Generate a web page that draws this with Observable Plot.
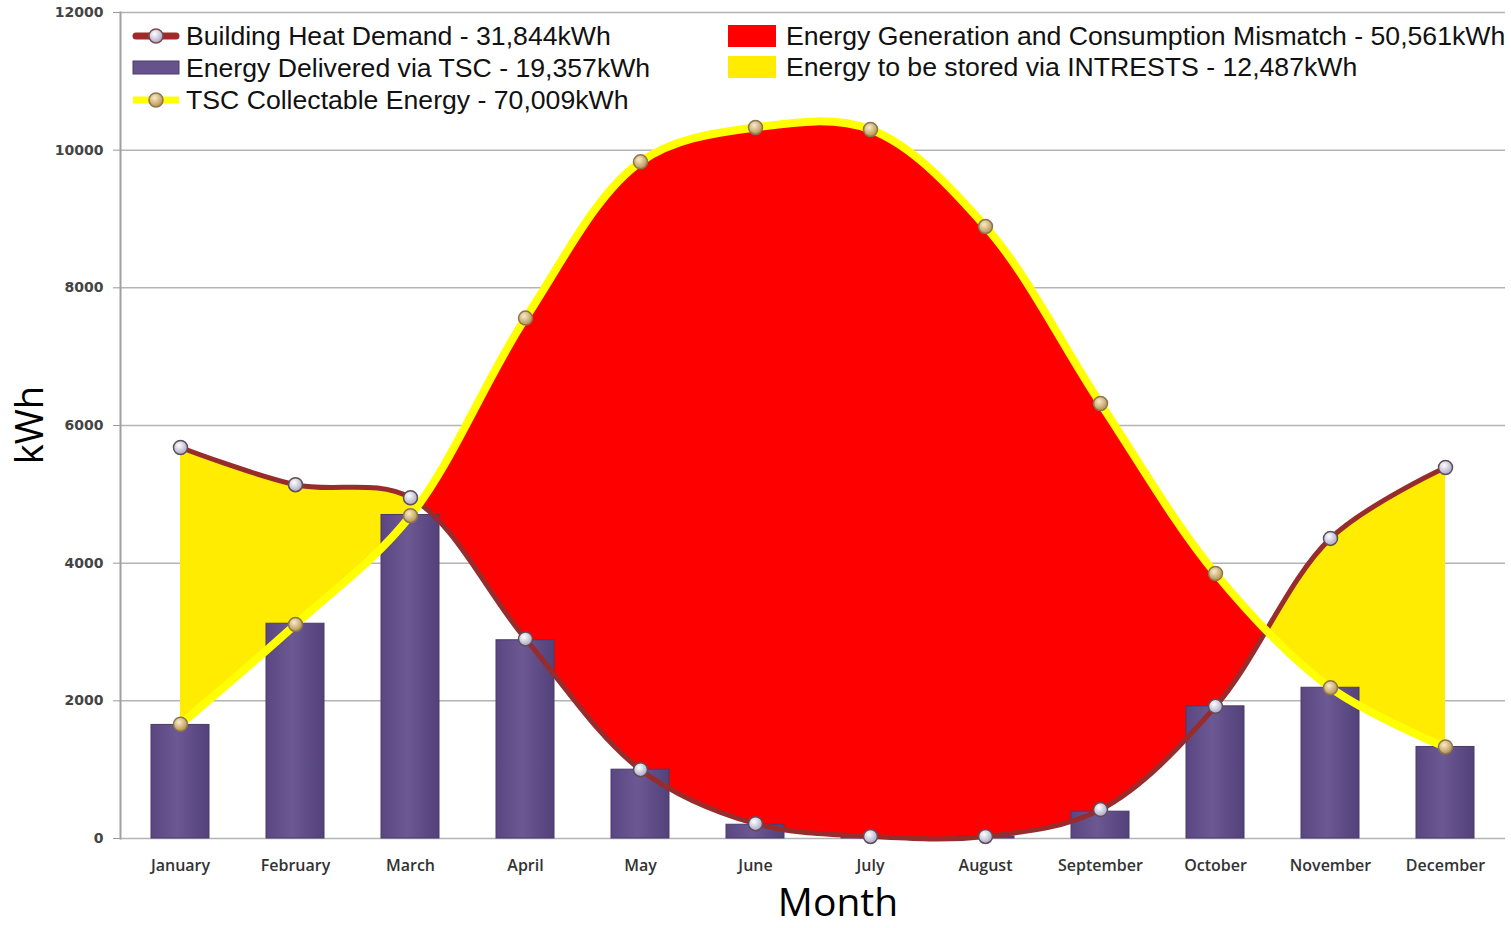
<!DOCTYPE html>
<html>
<head>
<meta charset="utf-8">
<script src="https://cdn.jsdelivr.net/npm/d3@7"></script>
<script src="https://cdn.jsdelivr.net/npm/@observablehq/plot@0.6"></script>
<style>
  body { margin: 0; background: #ffffff; }
  #wrap { position: relative; width: 1511px; height: 928px; overflow: hidden; background: #fff; }
  #wrap svg.plot { position: absolute; left: 0; top: 0; }
  .leg { position: absolute; font-family: "Liberation Sans", Arial, sans-serif; font-size: 25px; color: #111; white-space: nowrap; line-height: 32px; height: 32px; transform: scaleX(1.065); transform-origin: 0 50%; }
  .sym { position: absolute; }
  .axlab { position: absolute; font-family: "Open Sans", sans-serif; color: #000; white-space: nowrap; line-height: 1; }
</style>
</head>
<body>
<div id="wrap"></div>
<script>
// ---- data ----
const months = ["January", "February", "March", "April", "May", "June", "July", "August", "September", "October", "November", "December"];
const demand = [5680, 5140, 4950, 2900, 1000, 215, 30, 30, 420, 1920, 4360, 5390];          // Building Heat Demand
const delivered = [1650, 3120, 4700, 2880, 1000, 200, 30, 30, 390, 1920, 2190, 1330];       // Energy Delivered via TSC
const collectable = [1660, 3110, 4690, 7560, 9830, 10330, 10300, 8890, 6320, 3850, 2190, 1330]; // TSC Collectable Energy
const yTicks = [0, 2000, 4000, 6000, 8000, 10000, 12000];
const legendLeft = [
  "Building Heat Demand - 31,844kWh",
  "Energy Delivered via TSC - 19,357kWh",
  "TSC Collectable Energy - 70,009kWh"
];
const legendRight = [
  "Energy Generation and Consumption Mismatch - 50,561kWh",
  "Energy to be stored via INTRESTS - 12,487kWh"
];
const xTitle = "Month";
const yTitle = "kWh";

const data = months.map((m, i) => ({month: m, demand: demand[i], delivered: delivered[i], collectable: collectable[i]}));

// gradients used by bars and dots
function defsMark() {
  const defs = d3.create("svg:defs");
  const bg = defs.append("linearGradient").attr("id", "barGrad").attr("x1", 0).attr("x2", 1).attr("y1", 0).attr("y2", 0);
  bg.append("stop").attr("offset", "0%").attr("stop-color", "#5a4680");
  bg.append("stop").attr("offset", "45%").attr("stop-color", "#6c5893");
  bg.append("stop").attr("offset", "100%").attr("stop-color", "#53417a");
  const dw = defs.append("radialGradient").attr("id", "dotW").attr("cx", "40%").attr("cy", "35%").attr("r", "65%");
  dw.append("stop").attr("offset", "0%").attr("stop-color", "#ffffff");
  dw.append("stop").attr("offset", "100%").attr("stop-color", "#aaa6c4");
  const dg = defs.append("radialGradient").attr("id", "dotG").attr("cx", "40%").attr("cy", "35%").attr("r", "65%");
  dg.append("stop").attr("offset", "0%").attr("stop-color", "#f8ecc8");
  dg.append("stop").attr("offset", "100%").attr("stop-color", "#b8914e");
  return defs.node();
}

// the two filled regions between the demand and collectable curves
function lobesMark(index, scales, values, dims) {
  const x = scales.x, y = scales.y;
  const bw = x.bandwidth ? x.bandwidth() : 0;
  const pts = months.map((m, i) => ({px: x(m) + bw / 2, d: y(demand[i]), c: y(collectable[i])}));
  const top = dims.marginTop, bottom = dims.height - dims.marginBottom;
  const curve = d3.curveCatmullRom;
  const g = d3.create("svg:g");
  const defs = g.append("defs");
  defs.append("clipPath").attr("id", "clipAboveD").append("path")
    .attr("d", d3.area().curve(curve).x(p => p.px).y0(top).y1(p => p.d)(pts));
  defs.append("clipPath").attr("id", "clipBelowD").append("path")
    .attr("d", d3.area().curve(curve).x(p => p.px).y0(bottom).y1(p => p.d)(pts));
  const between = d3.area().curve(curve).x(p => p.px).y0(p => p.d).y1(p => p.c);
  g.append("path").attr("d", between(pts)).attr("fill", "#ff0000").attr("clip-path", "url(#clipAboveD)");
  g.append("path").attr("d", between(pts)).attr("fill", "#ffec00").attr("clip-path", "url(#clipBelowD)");
  return g.node();
}

const chart = Plot.plot({
  width: 1511,
  height: 928,
  marginLeft: 120,
  marginRight: 6,
  marginTop: 12,
  marginBottom: 90,
  style: {background: "transparent"},
  x: {domain: months, paddingInner: 0.5, paddingOuter: 0.25, label: null},
  y: {domain: [0, 12000], label: null},
  marks: [
    defsMark,
    Plot.gridY(yTicks, {stroke: "#b4b4b4", strokeOpacity: 1, strokeWidth: 1.5}),
    lobesMark,
    Plot.barY(data, {x: "month", y: "delivered", fill: "url(#barGrad)", stroke: "#4a3a6c", strokeWidth: 1}),
    Plot.line(data, {x: "month", y: "demand", curve: "catmull-rom", stroke: "#982c2c", strokeWidth: 5}),
    Plot.line(data, {x: "month", y: "collectable", curve: "catmull-rom", stroke: "#ffff00", strokeWidth: 8}),
    Plot.dot(data, {x: "month", y: "demand", r: 7, fill: "url(#dotW)", stroke: "#5e4e5a", strokeWidth: 1.5}),
    Plot.dot(data, {x: "month", y: "collectable", r: 7, fill: "url(#dotG)", stroke: "#8b7650", strokeWidth: 1.5}),
    Plot.frame({anchor: "left", stroke: "#a0a0a0", strokeWidth: 2}),
    Plot.axisY({ticks: yTicks, tickSize: 7, tickPadding: 10, tickFormat: d => String(d), fontFamily: "DejaVu Sans", fontWeight: "bold", fontSize: 14, fill: "#444", stroke: "#999", label: null}),
    Plot.axisX({tickSize: 0, tickPadding: 21, fontFamily: "Open Sans", fontSize: 16, fontWeight: 600, fill: "#333", label: null})
  ]
});
chart.classList.add("plot");

const wrap = document.getElementById("wrap");
wrap.appendChild(chart);

// ---- legend (HTML overlay) ----
const ns = "http://www.w3.org/2000/svg";
function symSvg(left, top, w, h, build) {
  const s = document.createElementNS(ns, "svg");
  s.setAttribute("width", w); s.setAttribute("height", h);
  s.setAttribute("class", "sym");
  s.style.left = left + "px"; s.style.top = top + "px";
  s.innerHTML = build;
  wrap.appendChild(s);
}
const rowsL = [36, 68, 100];
symSvg(131, rowsL[0] - 10, 50, 20,
  '<defs><radialGradient id="lw" cx="40%" cy="35%" r="65%"><stop offset="0%" stop-color="#fff"/><stop offset="100%" stop-color="#aaa6c4"/></radialGradient></defs>' +
  '<line x1="5" x2="45" y1="10" y2="10" stroke="#a02a2a" stroke-width="7" stroke-linecap="round"/>' +
  '<circle cx="25" cy="10" r="7" fill="url(#lw)" stroke="#7a4a50" stroke-width="1.5"/>');
symSvg(131, rowsL[1] - 8, 50, 16,
  '<rect x="2" y="1" width="46" height="13" fill="#66538c" stroke="#4a3a6c" stroke-width="1"/>');
symSvg(131, rowsL[2] - 10, 50, 20,
  '<defs><radialGradient id="lg" cx="40%" cy="35%" r="65%"><stop offset="0%" stop-color="#f8ecc8"/><stop offset="100%" stop-color="#b8914e"/></radialGradient></defs>' +
  '<line x1="2" x2="48" y1="10" y2="10" stroke="#ffff00" stroke-width="7"/>' +
  '<circle cx="25" cy="10" r="7" fill="url(#lg)" stroke="#8b7650" stroke-width="1.5"/>');
legendLeft.forEach((t, i) => {
  const d = document.createElement("div");
  d.className = "leg"; d.textContent = t;
  d.style.left = "186px"; d.style.top = (rowsL[i] - 16) + "px";
  wrap.appendChild(d);
});
const rowsR = [36, 67];
const rectColors = ["#ff0000", "#ffec00"];
rowsR.forEach((r, i) => {
  symSvg(728, r - 11, 48, 22, `<rect x="0" y="0" width="48" height="22" fill="${rectColors[i]}"/>`);
  const d = document.createElement("div");
  d.className = "leg"; d.textContent = legendRight[i];
  d.style.left = "786px"; d.style.top = (r - 16) + "px";
  wrap.appendChild(d);
});

// axis titles
const xt = document.createElement("div");
xt.className = "axlab"; xt.textContent = xTitle;
xt.style.fontSize = "39px"; xt.style.left = "838px"; xt.style.top = "881px"; xt.style.transform = "translateX(-50%)";
wrap.appendChild(xt);
const yt = document.createElement("div");
yt.className = "axlab"; yt.textContent = yTitle;
yt.style.fontSize = "38px"; yt.style.left = "28px"; yt.style.top = "425px";
yt.style.transform = "translate(-50%, -50%) rotate(-90deg)";
wrap.appendChild(yt);
</script>
</body>
</html>
